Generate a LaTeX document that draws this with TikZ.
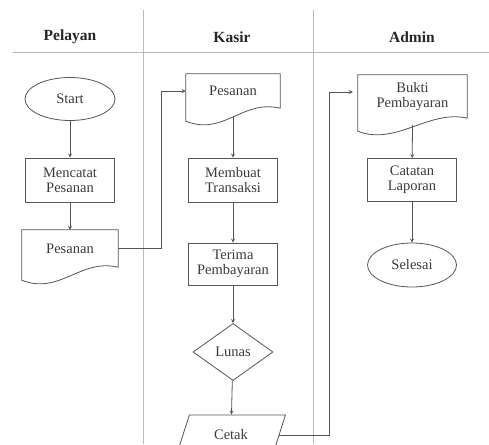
\documentclass[tikz,border=0pt]{standalone}
\usepackage{fontspec}
\setmainfont{Liberation Serif}
\usetikzlibrary{shapes.geometric,calc}

\definecolor{lanegray}{HTML}{BBBBBB}
\definecolor{linegray}{HTML}{555555}
\definecolor{txtgray}{HTML}{3A3A3A}

% document symbol: flat top, wavy bottom (drawn round a plain node)
\newcommand{\docwave}[1]{%
  \draw[shp] (#1.north west) -- (#1.north east) -- (#1.south east)
    .. controls ($(#1.south east)+(-38,-9)$) and ($(#1.south west)+(38,28)$)
    .. ($(#1.south west)+(0,13)$) -- cycle;}

\begin{document}
\begin{tikzpicture}[
  x=1pt, y=-1pt,
  txt/.style={font=\fontsize{14.5}{15}\selectfont, text=txtgray, align=center},
  shp/.style={draw=linegray, line width=0.8pt},
  box/.style={shp, txt, rectangle, minimum width=89, minimum height=44, inner sep=0},
  term/.style={shp, txt, ellipse, minimum width=90, minimum height=43, inner sep=0},
  doc/.style={txt, minimum width=94, minimum height=34, inner sep=0},
  dec/.style={shp, txt, diamond, minimum width=80, minimum height=57, inner sep=0},
  io/.style={shp, txt, trapezium, trapezium left angle=63, trapezium right angle=117,
    trapezium stretches=true, minimum width=109, minimum height=40, inner sep=0},
  arrow/.style={->, >=stealth, draw=linegray, line width=0.8pt},
  lane/.style={draw=lanegray, line width=0.9pt},
  hdr/.style={font=\fontsize{15.5}{17}\selectfont\bfseries, text=black!85},
]
\useasboundingbox (0,0) rectangle (489,444);
\clip (0,0) rectangle (489,444);

% --- swimlanes ---
\draw[lane] (13,52) -- (489,52);
\draw[lane] (143,10) -- (143,444);
\draw[lane] (313,10) -- (313,444);
\node[hdr] (hpel) at (70,37) {Pelayan};
\node[hdr] (hkas) at (232,37) {Kasir};
\node[hdr] (hadm) at (412,37) {Admin};

% --- Pelayan ---
\node[term] (start) at (70,99) {Start};
\node[box] (catat) at (70,180) {Mencatat\\Pesanan};
\node[doc, minimum width=96, minimum height=37] (pes1) at (70,248.5) {Pesanan};
\docwave{pes1}

% --- Kasir ---
\node[doc] (pes2) at (233,91) {Pesanan};
\docwave{pes2}
\node[box] (trans) at (233,180) {Membuat\\Transaksi};
\node[box, minimum height=42] (terima) at (233,264) {Terima\\Pembayaran};
\node[dec] (lunas) at (233,352) {Lunas};
\node[io] (cetak) at (231,435) {Cetak};

% --- Admin ---
\node[doc, minimum width=109, minimum height=43] (bukti) at (412.5,96.5) {Bukti\\Pembayaran};
\docwave{bukti}
\node[box, minimum height=43] (catatan) at (412,180) {Catatan\\Laporan};
\node[term, minimum width=89, minimum height=44] (selesai) at (412,265) {Selesai};

% --- flow ---
\draw[arrow] (start) -- (catat);
\draw[arrow] (catat) -- (pes1);
\draw[arrow] (pes1.east) -| ([xshift=-24pt]pes2.west) -- (pes2.west);
\draw[arrow] ([yshift=-8pt]pes2.south) -- (trans);
\draw[arrow] (trans) -- (terima);
\draw[arrow] (terima) -- (lunas);
\draw[arrow] (lunas) -- (cetak);
\draw[arrow, shorten >=5pt] (cetak.east) -| ([xshift=-28pt,yshift=4.5pt]bukti.west) -- ([yshift=4.5pt]bukti.west);
\draw[arrow] ([yshift=-7pt]bukti.south) -- (catatan);
\draw[arrow] (catatan) -- (selesai);
\end{tikzpicture}
\end{document}
